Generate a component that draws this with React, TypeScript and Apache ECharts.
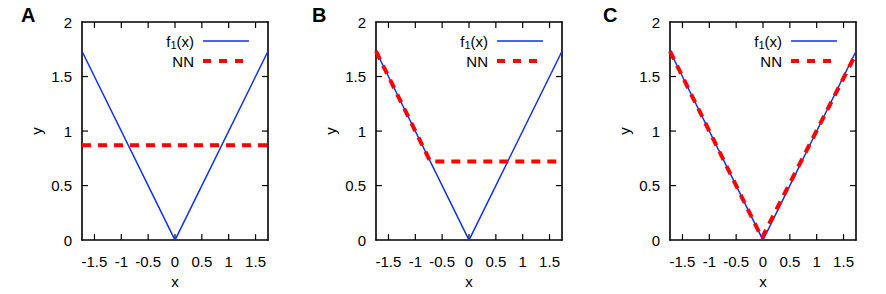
import React, { useEffect, useRef } from "react";
import * as echarts from "echarts";

// ---- data ----
const X_MIN = -1.732;
const X_MAX = 1.732;
const panelLabels = ["A", "B", "C"];
const f1X = [-1.732, 0, 1.732];
const f1Y = [1.732, 0, 1.732];
const nnAX = [-1.732, 1.732];
const nnAY = [0.87, 0.87];
const nnBX = [-1.732, -0.72, 1.732];
const nnBY = [1.732, 0.72, 0.72];
const nnCX = [-1.732, -0.02, 1.732];
const nnCY = [1.732, 0.02, 1.71];
const xTickVals = [-1.5, -1, -0.5, 0, 0.5, 1, 1.5];
const yTicks = [0, 0.5, 1, 1.5, 2];

const nnX = [nnAX, nnBX, nnCX];
const nnY = [nnAY, nnBY, nnCY];

const FONT = "'Liberation Sans', Arial, Helvetica, sans-serif";
const FS = 15;
const BLUE = "#1030f0";
const RED = "#ff0000";
const GRID_LEFTS = [82, 376, 670];
const GRID_TOP = 22;
const GRID_W = 186;
const GRID_H = 221;
const TICK_LEN = 6;

const zip = (a: number[], b: number[]) => a.map((v, i) => [v, b[i]]);

const mkLine = () => ({ show: true, onZero: false, lineStyle: { color: "#000", width: 1.6 } });
const mkTick = () => ({ show: false });

function measure(text: string, font: string): number {
  const c = document.createElement("canvas");
  const ctx = c.getContext("2d")!;
  ctx.font = font;
  return ctx.measureText(text).width;
}

const Y_MIN = yTicks[0];
const Y_MAX = yTicks[yTicks.length - 1];

// tick data: [x, y, kind] kind 0 = x tick, 1 = y tick
const tickData = [
  ...xTickVals.map((v) => [v, Y_MIN, 0]),
  ...yTicks.slice(1, -1).map((v) => [X_MIN, v, 1]),
];

function renderTick(params: any, api: any) {
  const kind = api.value(2);
  const style = { stroke: "#000", lineWidth: 1.2 };
  if (kind === 0) {
    const v = api.value(0);
    const b = api.coord([v, Y_MIN]);
    const t = api.coord([v, Y_MAX]);
    return {
      type: "group",
      children: [
        { type: "line", shape: { x1: b[0], y1: b[1], x2: b[0], y2: b[1] - TICK_LEN }, style },
        { type: "line", shape: { x1: t[0], y1: t[1], x2: t[0], y2: t[1] + TICK_LEN }, style },
      ],
    };
  }
  const v = api.value(1);
  const l = api.coord([X_MIN, v]);
  const r = api.coord([X_MAX, v]);
  return {
    type: "group",
    children: [
      { type: "line", shape: { x1: l[0], y1: l[1], x2: l[0] + TICK_LEN, y2: l[1] }, style },
      { type: "line", shape: { x1: r[0], y1: r[1], x2: r[0] - TICK_LEN, y2: r[1] }, style },
    ],
  };
}

export default function App() {
  const ref = useRef<HTMLDivElement>(null);
  useEffect(() => {
    document.body.style.margin = "0";
    document.body.style.background = "#fff";
    const chart = echarts.init(ref.current!, null, { renderer: "svg" });
    const grids = GRID_LEFTS.map((l) => ({
      left: l,
      top: GRID_TOP,
      width: GRID_W,
      height: GRID_H,
    }));
    const xAxes: any[] = [];
    const yAxes: any[] = [];
    for (let i = 0; i < 3; i++) {
      xAxes.push({
        type: "value",
        gridIndex: i,
        min: X_MIN,
        max: X_MAX,
        minInterval: 0.5,
        maxInterval: 0.5,
        position: "bottom",
        name: "x",
        nameLocation: "middle",
        nameGap: 29,
        nameTextStyle: { fontFamily: FONT, fontSize: FS, color: "#000" },
        axisLine: mkLine(),
        axisTick: mkTick(),
        splitLine: { show: false },
        axisLabel: {
          showMinLabel: false,
          showMaxLabel: false,
          margin: 14,
          fontFamily: FONT,
          fontSize: FS,
          color: "#000",
        },
      });
      yAxes.push({
        type: "value",
        gridIndex: i,
        min: Y_MIN,
        max: Y_MAX,
        interval: 0.5,
        position: "left",
        name: "y",
        nameLocation: "middle",
        nameGap: 38,
        nameTextStyle: { fontFamily: FONT, fontSize: FS, color: "#000" },
        axisLine: mkLine(),
        axisTick: mkTick(),
        splitLine: { show: false },
        axisLabel: { margin: 10, fontFamily: FONT, fontSize: FS, color: "#000" },
      });
    }
    for (let i = 0; i < 3; i++) {
      xAxes.push({
        type: "value",
        gridIndex: i,
        min: X_MIN,
        max: X_MAX,
        minInterval: 0.5,
        maxInterval: 0.5,
        position: "top",
        axisLine: mkLine(),
        axisTick: mkTick(),
        splitLine: { show: false },
        axisLabel: { show: false },
      });
      yAxes.push({
        type: "value",
        gridIndex: i,
        min: Y_MIN,
        max: Y_MAX,
        interval: 0.5,
        position: "right",
        axisLine: mkLine(),
        axisTick: mkTick(),
        splitLine: { show: false },
        axisLabel: { show: false },
      });
    }
    const series: any[] = [];
    for (let i = 0; i < 3; i++) {
      series.push({
        type: "custom",
        xAxisIndex: i,
        yAxisIndex: i,
        silent: true,
        clip: false,
        encode: { x: 0, y: 1 },
        data: tickData,
        renderItem: renderTick,
        z: 1,
      });
      series.push({
        type: "line",
        name: "f1(x)",
        xAxisIndex: i,
        yAxisIndex: i,
        data: zip(f1X, f1Y),
        showSymbol: false,
        lineStyle: { color: BLUE, width: 1.5 },
      });
      series.push({
        type: "line",
        name: "NN",
        xAxisIndex: i,
        yAxisIndex: i,
        data: zip(nnX[i], nnY[i]),
        showSymbol: false,
        lineStyle: { color: RED, width: 4, type: [9, 7] },
      });
    }
    const mainFont = `${FS}px ${FONT}`;
    const subFont = `11px ${FONT}`;
    const wParen = measure("(x)", mainFont);
    const wSub = measure("1", subFont);
    const graphic: any[] = [];
    const panelLabelX = [21, 312, 603];
    GRID_LEFTS.forEach((l, i) => {
      const tx = l + 112;
      graphic.push({
        type: "text",
        left: panelLabelX[i],
        top: 5,
        style: { text: panelLabels[i], font: `bold 20px ${FONT}`, fill: "#000" },
      });
      graphic.push({
        type: "text",
        x: tx,
        y: 41,
        style: { text: "(x)", align: "right", verticalAlign: "middle", font: mainFont, fill: "#000" },
      });
      graphic.push({
        type: "text",
        x: tx - wParen,
        y: 45,
        style: { text: "1", align: "right", verticalAlign: "middle", font: subFont, fill: "#000" },
      });
      graphic.push({
        type: "text",
        x: tx - wParen - wSub,
        y: 41,
        style: { text: "f", align: "right", verticalAlign: "middle", font: mainFont, fill: "#000" },
      });
      graphic.push({
        type: "line",
        shape: { x1: l + 121, y1: 41, x2: l + 167, y2: 41 },
        style: { stroke: BLUE, lineWidth: 1.5 },
      });
      graphic.push({
        type: "text",
        x: tx,
        y: 61,
        style: { text: "NN", align: "right", verticalAlign: "middle", font: mainFont, fill: "#000" },
      });
      graphic.push({
        type: "line",
        shape: { x1: l + 121, y1: 61, x2: l + 167, y2: 61 },
        style: { stroke: RED, lineWidth: 4, lineDash: [8, 8] },
      });
    });
    chart.setOption({
      animation: false,
      grid: grids,
      xAxis: xAxes,
      yAxis: yAxes,
      series,
      graphic,
    });
    return () => chart.dispose();
  }, []);
  return <div ref={ref} style={{ width: 886, height: 294 }} />;
}
